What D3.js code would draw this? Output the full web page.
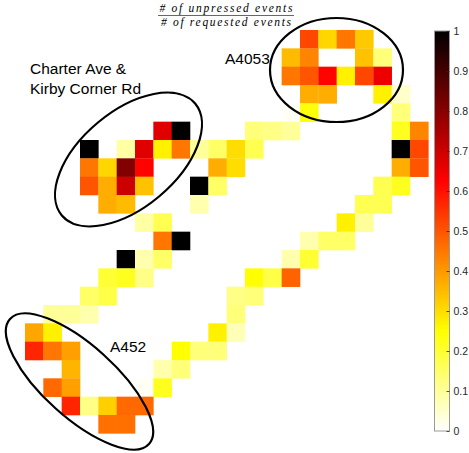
<!DOCTYPE html>
<html>
<head>
<meta charset="utf-8">
<script src="https://cdn.jsdelivr.net/npm/d3@7"></script>
<style>
  html, body { margin: 0; padding: 0; background: #ffffff; }
  svg { display: block; }
</style>
</head>
<body>
<svg id="chart" width="469" height="453"></svg>
<script>
// ---- data (grid row index, grid column index, ratio value) ----
const cellRow = [
  0,0,0,0,
  1,1,1,1,
  2,2,2,2,2,2,
  3,3,3,3,
  4,4,4,
  5,5,5,5,5,5,5,
  6,6,6,6,6,6,6,6,6,6,6,
  7,7,7,7,7,7,7,7,
  8,8,8,8,8,8,8,8,
  9,9,9,9,9,
  10,10,10,10,
  11,11,11,11,11,
  12,12,12,12,12,
  13,13,13,13,13,13,
  14,14,14,14,
  15,15,15,15,
  16,16,16,16,
  17,17,17,17,17,17,
  18,18,18,
  19,19,19,19,
  20,20,20,20,20,
  21,21
];
const cellCol = [
  15,16,17,18,
  14,15,18,19,
  14,15,16,17,18,19,
  15,16,19,20,
  14,15,20,
  7,8,12,13,14,20,21,
  3,5,6,7,8,9,10,11,12,20,21,
  3,4,5,6,10,11,20,21,
  3,4,5,6,9,10,19,20,
  4,5,9,18,19,
  6,7,17,18,
  7,8,15,16,17,
  5,6,7,14,15,
  4,5,6,12,13,14,
  3,4,11,12,
  1,2,3,11,
  0,1,10,11,
  0,1,2,8,9,10,
  2,7,8,
  1,2,6,7,
  2,3,4,5,6,
  4,5
];
const cellValue = [
  0.52,0.31,0.45,0.33,
  0.35,0.43,0.34,0.13,
  0.45,0.50,0.62,0.27,0.52,0.65,
  0.37,0.37,0.27,0.05,
  0.01,0.24,0.13,
  0.67,1.00,0.13,0.12,0.10,0.22,0.43,
  1.00,0.09,0.67,0.27,0.45,0.10,0.15,0.30,0.17,1.00,0.52,
  0.45,0.31,0.81,0.62,0.37,0.30,0.37,0.50,
  0.50,0.37,0.70,0.34,1.00,0.15,0.17,0.22,
  0.37,0.35,0.08,0.17,0.17,
  0.09,0.17,0.27,0.10,
  0.45,1.00,0.08,0.15,0.15,
  1.00,0.08,0.15,0.08,0.20,
  0.20,0.22,0.12,0.25,0.18,0.48,
  0.15,0.18,0.12,0.13,
  0.10,0.10,0.08,0.13,
  0.38,0.27,0.27,0.07,
  0.57,0.45,0.39,0.25,0.13,0.13,
  0.36,0.08,0.13,
  0.47,0.39,0.01,0.22,
  0.57,0.12,0.32,0.47,0.47,
  0.46,0.46
];
const gridSize = 22;
const colorbarTicks = [0,0.1,0.2,0.3,0.4,0.5,0.6,0.7,0.8,0.9,1];
const titleNumerator = "# of  unpressed  events";
const titleDenominator = "# of  requested  events";
const annotations = ["Charter Ave &", "Kirby Corner Rd", "A4053", "A452"];

// ---- drawing ----
const svg = d3.select("#chart");

const x = d3.scaleBand().domain(d3.range(gridSize)).range([25, 428.33]).padding(0);
const y = d3.scaleBand().domain(d3.range(gridSize)).range([30, 433.33]).padding(0);

const color = d3.scaleLinear()
  .domain([0, 0.25, 0.625, 1])
  .range(["#ffffff", "#ffff00", "#ff0000", "#000000"])
  .clamp(true);

const cells = cellValue.map((v, i) => ({ r: cellRow[i], c: cellCol[i], v }));

svg.append("g")
  .selectAll("rect")
  .data(cells)
  .join("rect")
  .attr("x", d => x(d.c))
  .attr("y", d => y(d.r))
  .attr("width", x.bandwidth() + 0.3)
  .attr("height", y.bandwidth() + 0.3)
  .attr("fill", d => color(d.v));

// ---- colorbar ----
const cbX = 434.5, cbW = 15;
const cbScale = d3.scaleLinear().domain([0, 1]).range([431, 31]);
const defs = svg.append("defs");
const grad = defs.append("linearGradient")
  .attr("id", "cbGrad")
  .attr("x1", 0).attr("y1", 1).attr("x2", 0).attr("y2", 0);
color.domain().forEach((d, i) => {
  grad.append("stop").attr("offset", d).attr("stop-color", color.range()[i]);
});
svg.append("rect")
  .attr("x", cbX).attr("y", cbScale(1))
  .attr("width", cbW).attr("height", cbScale(0) - cbScale(1))
  .attr("fill", "url(#cbGrad)")
  .attr("stroke", "#9a9a9a").attr("stroke-width", 1);

const cbAxis = d3.axisRight(cbScale)
  .tickValues(colorbarTicks)
  .tickSizeInner(-3).tickSizeOuter(0)
  .tickPadding(4)
  .tickFormat(d => (d === 0 || d === 1) ? String(d) : d3.format(".1f")(d));
const cbG = svg.append("g")
  .attr("transform", `translate(${cbX + cbW},0)`)
  .call(cbAxis);
cbG.select(".domain").remove();
cbG.selectAll(".tick line").attr("stroke", "#262626").attr("stroke-width", 0.8);
cbG.selectAll(".tick text")
  .attr("font-family", "'Liberation Sans', Arial, sans-serif")
  .attr("font-size", 10.5)
  .attr("fill", "#262626");

// ---- title (fraction) ----
const titleCx = 226;
svg.append("text")
  .attr("x", titleCx).attr("y", 12)
  .attr("text-anchor", "middle")
  .attr("font-family", "'Liberation Serif', 'DejaVu Serif', serif")
  .attr("font-style", "italic")
  .attr("font-size", 11.5)
  .attr("fill", "#000")
  .attr("textLength", 133).attr("lengthAdjust", "spacing")
  .text(titleNumerator);
svg.append("line")
  .attr("x1", titleCx - 68).attr("x2", titleCx + 68)
  .attr("y1", 15.5).attr("y2", 15.5)
  .attr("stroke", "#000").attr("stroke-width", 0.6);
svg.append("text")
  .attr("x", titleCx).attr("y", 25.5)
  .attr("text-anchor", "middle")
  .attr("font-family", "'Liberation Serif', 'DejaVu Serif', serif")
  .attr("font-style", "italic")
  .attr("font-size", 11.5)
  .attr("fill", "#000")
  .attr("textLength", 130).attr("lengthAdjust", "spacing")
  .text(titleDenominator);

// ---- annotations ----
const ann = svg.append("g")
  .attr("font-family", "'Liberation Sans', Arial, sans-serif")
  .attr("font-size", 15.5)
  .attr("fill", "#000");
ann.append("text").attr("x", 30).attr("y", 74).text(annotations[0]);
ann.append("text").attr("x", 30).attr("y", 93.5).text(annotations[1]);
ann.append("text").attr("x", 225).attr("y", 63.5).text(annotations[2]);
ann.append("text").attr("x", 110).attr("y", 351.5).text(annotations[3]);

const ellipses = [
  { cx: 128.5, cy: 159.5, rx: 87, ry: 48, rot: -40 },
  { cx: 336.5, cy: 70, rx: 66.5, ry: 52, rot: 0 },
  { cx: 79.5, cy: 381.5, rx: 93.5, ry: 36, rot: 42 }
];
svg.append("g")
  .selectAll("ellipse")
  .data(ellipses)
  .join("ellipse")
  .attr("cx", 0).attr("cy", 0)
  .attr("rx", d => d.rx).attr("ry", d => d.ry)
  .attr("transform", d => `translate(${d.cx},${d.cy}) rotate(${d.rot})`)
  .attr("fill", "none")
  .attr("stroke", "#000")
  .attr("stroke-width", 2.2);
</script>
</body>
</html>
